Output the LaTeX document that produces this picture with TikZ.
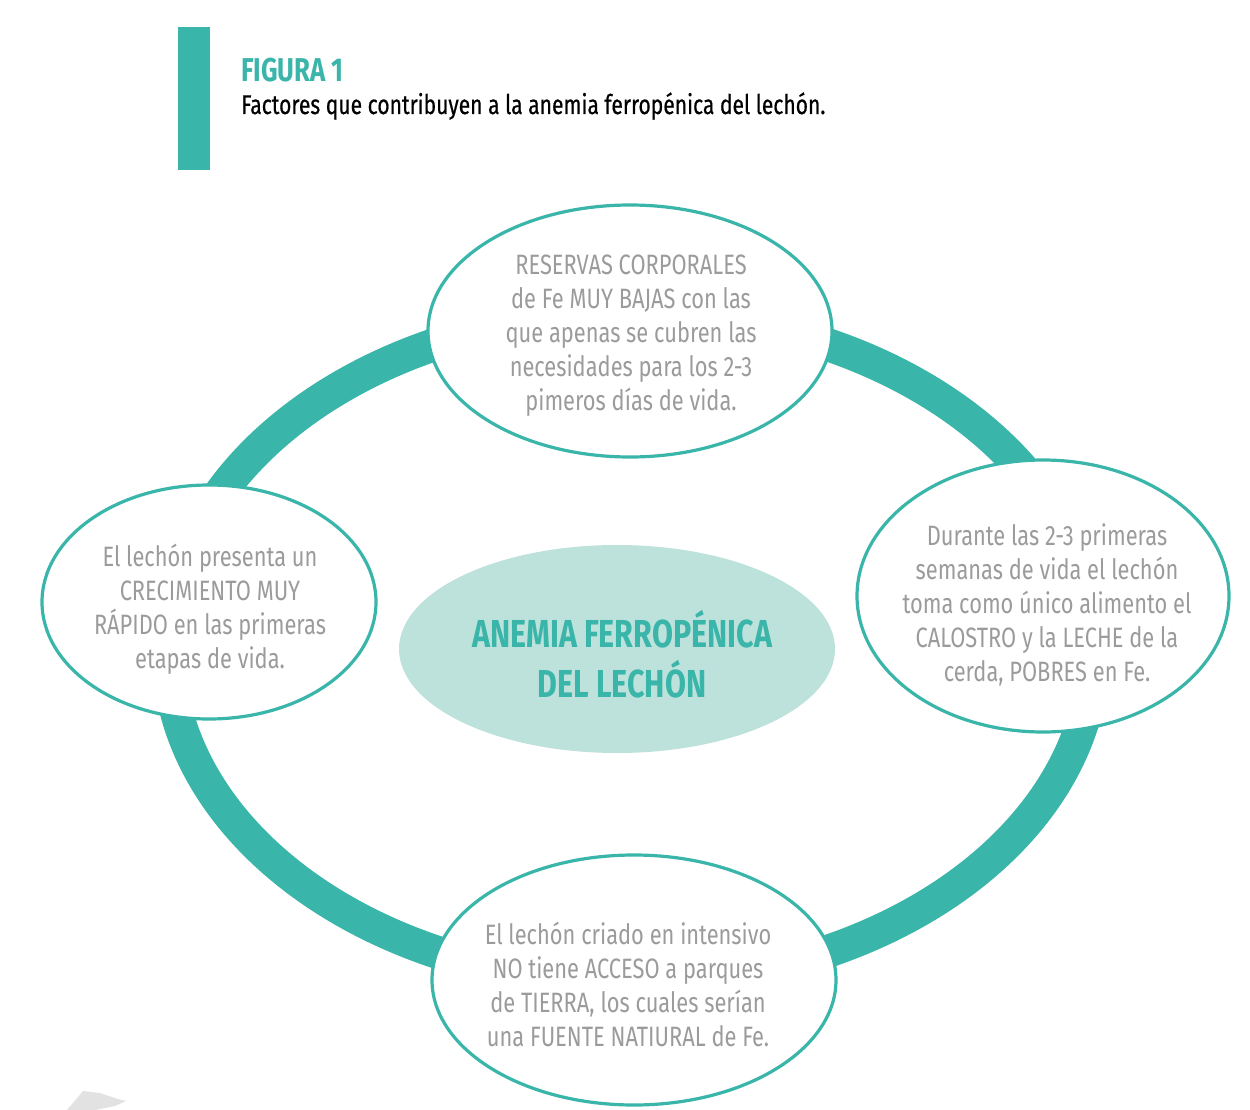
\documentclass[tikz,border=0pt]{standalone}
\usepackage{fontspec}
\setmainfont{Fira Sans}[FakeStretch=0.78]
\usetikzlibrary{shapes.geometric}
\definecolor{tealc}{HTML}{3AB5A9}
\definecolor{lightc}{HTML}{BDE1DB}
\definecolor{grayc}{HTML}{9B9B9B}
\definecolor{smudge}{HTML}{E2E2E2}
\begin{document}
\begin{tikzpicture}[x=1pt,y=-1pt,
  bubble/.style={ellipse, draw=tealc, line width=3.2pt, fill=white, inner sep=0pt},
  btext/.style={align=center, text=grayc, font=\fontsize{28}{34}\selectfont, inner sep=0pt},
  ctext/.style={align=center, text=tealc, font=\bfseries\fontsize{39}{50}\selectfont, inner sep=0pt},
]
\useasboundingbox (0,0) rectangle (1250,1110);
% title bar
\fill[tealc] (178,27) rectangle (210,170);
\node[anchor=base west, text=tealc, font=\bfseries\fontsize{33}{40}\selectfont, inner sep=0pt] (fig) at (241,82) {FIGURA 1};
\node[anchor=base west, text=black, font=\addfontfeature{FakeBold=0.6}\fontsize{27}{30}\selectfont, inner sep=0pt] (sub) at (241,114) {Factores que contribuyen a la anemia ferropénica del lechón.};
% ring
\draw[tealc, line width=33pt] (631,648) ellipse [x radius=463, y radius=335];
% centre
\node[ellipse, fill=lightc, inner sep=0pt, minimum width=436pt, minimum height=208pt] (centre) at (617,649) {};
\node[ctext] (centretext) at (622,654) {ANEMIA FERROPÉNICA\\DEL LECHÓN};
% bubbles
\node[bubble, minimum width=404pt, minimum height=252pt] (top) at (630,331) {};
\node[btext] (toptext) at (631,336) {RESERVAS CORPORALES\\de Fe MUY BAJAS con las\\que apenas se cubren las\\necesidades para los 2-3\\pimeros días de vida.};
\node[bubble, minimum width=334pt, minimum height=234pt] (left) at (209,602) {};
\node[btext] (lefttext) at (210,609) {El lechón presenta un\\CRECIMIENTO MUY\\RÁPIDO en las primeras\\etapas de vida.};
\node[bubble, minimum width=372pt, minimum height=272pt] (right) at (1043,596) {};
\node[btext] (righttext) at (1047,605) {Durante las 2-3 primeras\\semanas de vida el lechón\\toma como único alimento el\\CALOSTRO y la LECHE de la\\cerda, POBRES en Fe.};
\node[bubble, minimum width=404pt, minimum height=250pt] (bottom) at (634,980) {};
\node[btext] (bottomtext) at (628,984) {El lechón criado en intensivo\\NO tiene ACCESO a parques\\de TIERRA, los cuales serían\\una FUENTE NATIURAL de Fe.};
% smudge
\fill[smudge] (67,1110) -- (83,1091) -- (100,1093) -- (118,1099) -- (126,1101) -- (115,1106) -- (95,1110) -- cycle;
\end{tikzpicture}
\end{document}
